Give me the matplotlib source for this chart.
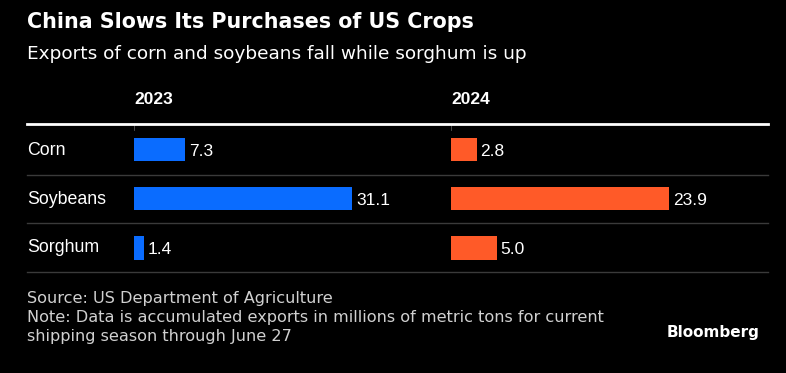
import matplotlib.pyplot as plt
from matplotlib.lines import Line2D

crops = ['Corn', 'Soybeans', 'Sorghum']
years = ['2023', '2024']
exports_2023 = [7.3, 31.1, 1.4]
exports_2024 = [2.8, 23.9, 5.0]

W, H = 786, 373
fig = plt.figure(figsize=(W / 100, H / 100), dpi=100, facecolor='black')

body = ['Liberation Sans', 'DejaVu Sans']


def fx(px):
    return px / W


def fy(py):
    return 1 - py / H


# title block
fig.text(fx(27), fy(22), 'China Slows Its Purchases of US Crops', color='white',
         fontsize=14.9, fontweight='bold', family=['DejaVu Sans'], va='center')
fig.text(fx(27), fy(54), 'Exports of corn and soybeans fall while sorghum is up',
         color='white', fontsize=13.3, family=['DejaVu Sans'], va='center')

# panels
top, bottom = 124, 272
panels = [(134, 451, exports_2023, '#0A6CFF'), (451, 768, exports_2024, '#FF5A28')]
for (x0, x1, vals, col), yr in zip(panels, years):
    ax = fig.add_axes([fx(x0), fy(bottom), fx(x1 - x0), (bottom - top) / H])
    ax.set_facecolor('none')
    ypos = range(len(crops))
    ax.barh(ypos, vals, height=0.47, color=col)
    ax.set_xlim(0, max(vals) / 0.688)
    ax.set_ylim(2.49, -0.53)
    for y, v in zip(ypos, vals):
        ax.text(v + max(vals) / 0.688 * 0.012, y + 0.03, f'{v:.1f}', color='white',
                fontsize=12.5, family=body, va='center', ha='left')
    ax.axis('off')
    fig.text(fx(x0), fy(100), yr, color='white', fontsize=12.5, fontweight='bold',
             family=body, va='center')
    # small tick on the header rule
    fig.add_artist(Line2D([fx(x0), fx(x0)], [fy(124), fy(130)], color='#555555', lw=0.6))

# row labels
row_centers = [150, 199.5, 248]
for name, yc in zip(crops, row_centers):
    fig.text(fx(27), fy(yc), name, color='white', fontsize=12.8, family=body, va='center')

# rules
fig.add_artist(Line2D([fx(27), fx(768)], [fy(124), fy(124)], color='white', lw=2))
for yl in [175, 223, 272]:
    fig.add_artist(Line2D([fx(27), fx(768)], [fy(yl), fy(yl)], color='#3a3a3a', lw=1))

# footer
foot = ['Source: US Department of Agriculture',
        'Note: Data is accumulated exports in millions of metric tons for current',
        'shipping season through June 27']
for i, line in enumerate(foot):
    fig.text(fx(27), fy(298 + i * 19.5), line, color='#d0d0d0', fontsize=11.6,
             family=['DejaVu Sans'], va='center')
fig.text(fx(760), fy(332), 'Bloomberg', color='white', fontsize=11,
         fontweight='bold', family=['DejaVu Sans'], va='center', ha='right')

fig.savefig('out.png', dpi=100, facecolor='black')
